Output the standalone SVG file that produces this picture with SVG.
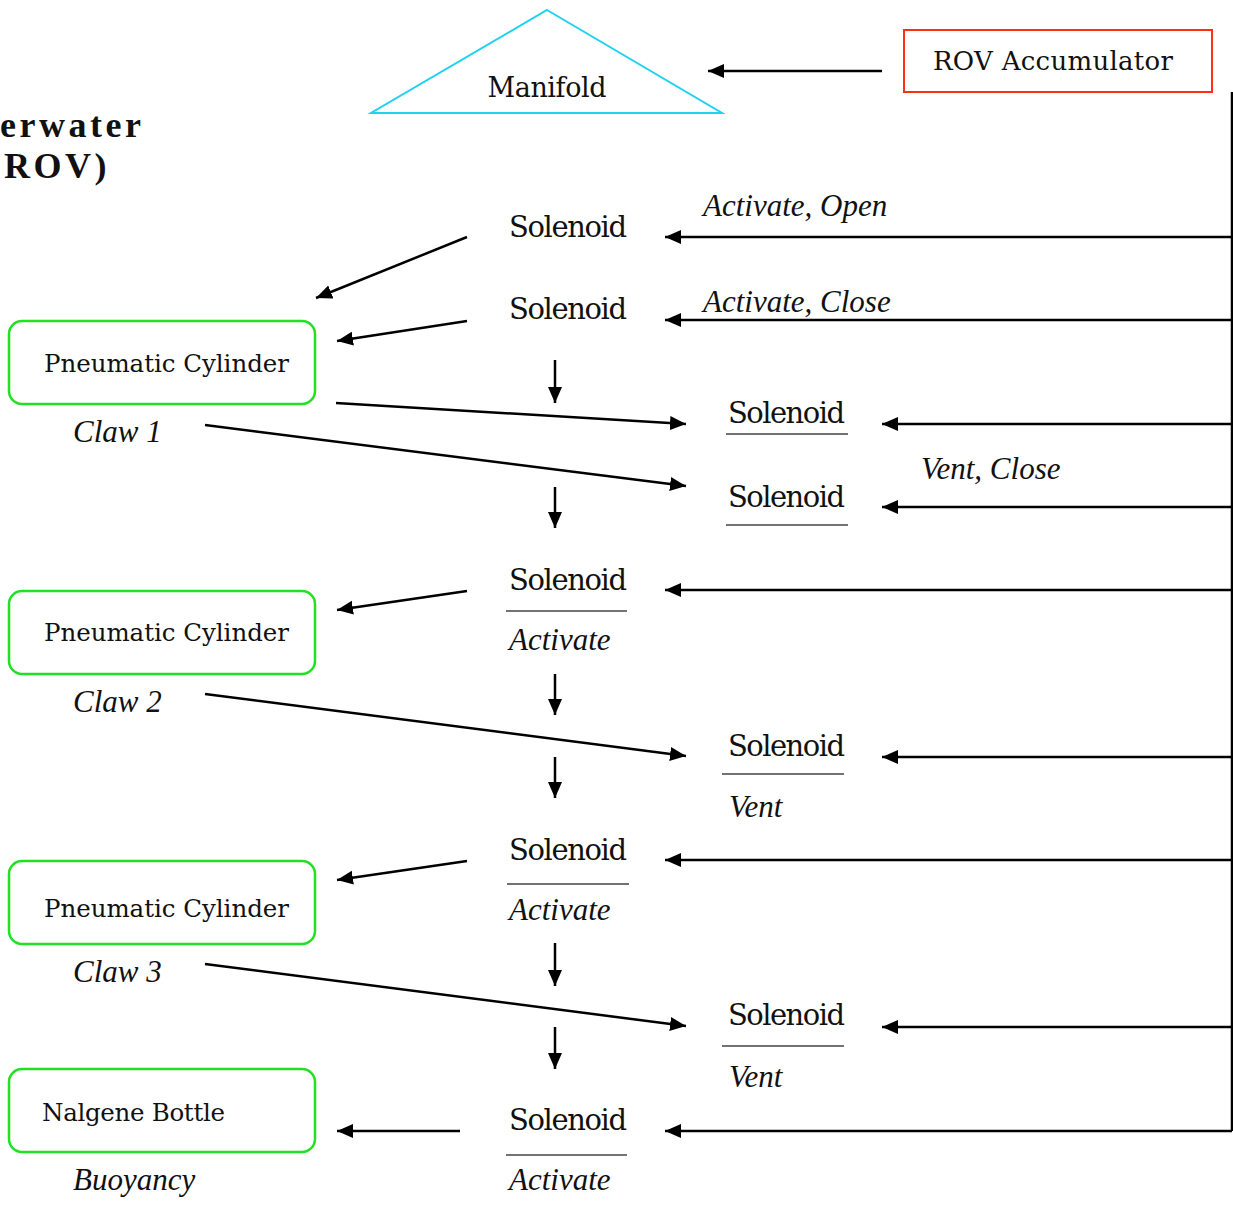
<svg xmlns="http://www.w3.org/2000/svg" width="1233" height="1205" viewBox="0 0 1233 1205">
<style>
.reg{font-family:"DejaVu Serif","Liberation Serif",serif;fill:#111;}
.it{font-family:"Liberation Serif",serif;font-style:italic;font-size:31px;fill:#111;}
.ttl{font-family:"Liberation Serif",serif;font-weight:bold;font-size:36px;letter-spacing:3.5px;fill:#111;}
.box{fill:none;stroke:#22E022;stroke-width:2.5;}
.ln{stroke:#000;stroke-width:2.5;fill:none;}
.ul{stroke:#444;stroke-width:1.5;}
</style>
<defs>
<marker id="ah" markerUnits="userSpaceOnUse" markerWidth="18" markerHeight="16" refX="16" refY="7" orient="auto">
<path d="M0,0 L16,7 L0,14 Z" fill="#000"/>
</marker>
</defs>
<rect width="1233" height="1205" fill="#fff"/>

<g id="title">
<text class="ttl" x="0" y="137">erwater</text>
<text class="ttl" x="4" y="178">ROV)</text>
</g>

<g id="manifold">
<polygon points="547,10 722,113 371,113" fill="none" stroke="#1ED2F0" stroke-width="2"/>
<text class="reg" x="547" y="97" font-size="27" text-anchor="middle" textLength="119">Manifold</text>
</g>

<g id="accumulator">
<rect x="904" y="30" width="308" height="62" fill="none" stroke="#FF3010" stroke-width="2"/>
<text class="reg" x="1053" y="70" font-size="26" text-anchor="middle" textLength="240">ROV Accumulator</text>
</g>

<g id="cyl1">
<rect class="box" x="9" y="321" width="306" height="83" rx="13"/>
<text class="reg" x="44" y="372" font-size="24.5" textLength="245">Pneumatic Cylinder</text>
<text class="it" x="73" y="442">Claw 1</text>
</g>
<g id="cyl2">
<rect class="box" x="9" y="591" width="306" height="83" rx="13"/>
<text class="reg" x="44" y="641" font-size="24.5" textLength="245">Pneumatic Cylinder</text>
<text class="it" x="73" y="712">Claw 2</text>
</g>
<g id="cyl3">
<rect class="box" x="9" y="861" width="306" height="83" rx="13"/>
<text class="reg" x="44" y="917" font-size="24.5" textLength="245">Pneumatic Cylinder</text>
<text class="it" x="73" y="982">Claw 3</text>
</g>
<g id="bottle">
<rect class="box" x="9" y="1069" width="306" height="83" rx="13"/>
<text class="reg" x="42" y="1121" font-size="24.5" textLength="183">Nalgene Bottle</text>
<text class="it" x="73" y="1190">Buoyancy</text>
</g>

<g id="sol1"><text class="reg" x="509" y="237" font-size="29" textLength="118">Solenoid</text></g>
<g id="sol2"><text class="reg" x="509" y="319" font-size="29" textLength="118">Solenoid</text></g>
<g id="sol3">
<text class="reg" x="728" y="423" font-size="29" textLength="117">Solenoid</text>
<line class="ul" x1="726" y1="434" x2="848" y2="434"/>
</g>
<g id="sol4">
<text class="reg" x="728" y="507" font-size="29" textLength="117">Solenoid</text>
<line class="ul" x1="726" y1="525" x2="848" y2="525"/>
</g>
<g id="sol5">
<text class="reg" x="509" y="590" font-size="29" textLength="118">Solenoid</text>
<line class="ul" x1="506" y1="611" x2="627" y2="611"/>
<text class="it" x="509" y="650">Activate</text>
</g>
<g id="sol6">
<text class="reg" x="728" y="756" font-size="29" textLength="117">Solenoid</text>
<line class="ul" x1="722" y1="774" x2="844" y2="774"/>
<text class="it" x="729" y="817">Vent</text>
</g>
<g id="sol7">
<text class="reg" x="509" y="860" font-size="29" textLength="118">Solenoid</text>
<line class="ul" x1="507" y1="884" x2="629" y2="884"/>
<text class="it" x="509" y="920">Activate</text>
</g>
<g id="sol8">
<text class="reg" x="728" y="1025" font-size="29" textLength="117">Solenoid</text>
<line class="ul" x1="722" y1="1046" x2="844" y2="1046"/>
<text class="it" x="729" y="1087">Vent</text>
</g>
<g id="sol9">
<text class="reg" x="509" y="1130" font-size="29" textLength="118">Solenoid</text>
<line class="ul" x1="506" y1="1155" x2="627" y2="1155"/>
<text class="it" x="509" y="1190">Activate</text>
</g>

<g id="labels">
<text class="it" x="703" y="216">Activate, Open</text>
<text class="it" x="703" y="312">Activate, Close</text>
<text class="it" x="921" y="479">Vent, Close</text>
</g>

<g id="connectors">
<polyline class="ln" points="1232,92 1232,1131"/>
<line class="ln" x1="882" y1="71" x2="708" y2="71" marker-end="url(#ah)"/>
<line class="ln" x1="1232" y1="237" x2="665" y2="237" marker-end="url(#ah)"/>
<line class="ln" x1="1232" y1="320" x2="665" y2="320" marker-end="url(#ah)"/>
<line class="ln" x1="1232" y1="424" x2="882" y2="424" marker-end="url(#ah)"/>
<line class="ln" x1="1232" y1="507" x2="882" y2="507" marker-end="url(#ah)"/>
<line class="ln" x1="1232" y1="590" x2="665" y2="590" marker-end="url(#ah)"/>
<line class="ln" x1="1232" y1="757" x2="882" y2="757" marker-end="url(#ah)"/>
<line class="ln" x1="1232" y1="860" x2="665" y2="860" marker-end="url(#ah)"/>
<line class="ln" x1="1232" y1="1027" x2="882" y2="1027" marker-end="url(#ah)"/>
<line class="ln" x1="1232" y1="1131" x2="665" y2="1131" marker-end="url(#ah)"/>

<line class="ln" x1="467" y1="237" x2="316" y2="298" marker-end="url(#ah)"/>
<line class="ln" x1="467" y1="321" x2="337" y2="341" marker-end="url(#ah)"/>
<line class="ln" x1="336" y1="403" x2="686" y2="424" marker-end="url(#ah)"/>
<line class="ln" x1="205" y1="425" x2="686" y2="486" marker-end="url(#ah)"/>
<line class="ln" x1="467" y1="591" x2="337" y2="610" marker-end="url(#ah)"/>
<line class="ln" x1="205" y1="694" x2="686" y2="756" marker-end="url(#ah)"/>
<line class="ln" x1="467" y1="861" x2="337" y2="880" marker-end="url(#ah)"/>
<line class="ln" x1="205" y1="964" x2="686" y2="1026" marker-end="url(#ah)"/>
<line class="ln" x1="460" y1="1131" x2="337" y2="1131" marker-end="url(#ah)"/>

<line class="ln" x1="555" y1="360" x2="555" y2="403" marker-end="url(#ah)"/>
<line class="ln" x1="555" y1="487" x2="555" y2="528" marker-end="url(#ah)"/>
<line class="ln" x1="555" y1="674" x2="555" y2="715" marker-end="url(#ah)"/>
<line class="ln" x1="555" y1="757" x2="555" y2="798" marker-end="url(#ah)"/>
<line class="ln" x1="555" y1="943" x2="555" y2="986" marker-end="url(#ah)"/>
<line class="ln" x1="555" y1="1027" x2="555" y2="1069" marker-end="url(#ah)"/>
</g>
</svg>
